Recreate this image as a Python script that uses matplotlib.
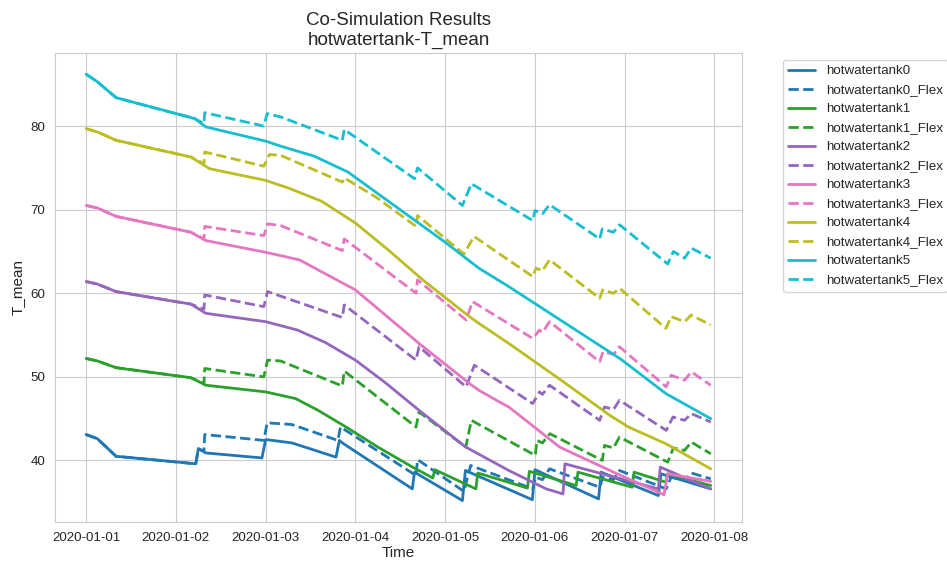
import numpy as np
import pandas as pd
import matplotlib
matplotlib.use("Agg")
import matplotlib.pyplot as plt
import matplotlib.dates as mdates
import seaborn as sns

# hours since 2020-01-01 00:00 and tank temperatures
tank0_h = [0, 3, 8, 29.3, 30, 32, 47, 48, 55, 66.8, 67.7, 68.5, 87.2, 87.8, 100.6, 101.4, 119.3, 120, 137, 137.7, 153, 153.7, 167]
tank0_v = [43.1, 42.6, 40.5, 39.6, 41.4, 40.9, 40.3, 42.5, 42.1, 40.4, 42.4, 42.1, 36.6, 38.6, 35.2, 38.8, 35.3, 38.9, 35.4, 38.6, 35.8, 38.4, 36.6]
tank0_flex_h = [0, 3, 8, 29.3, 30, 31.5, 31.7, 47.5, 48.4, 55, 67.3, 68, 88.2, 88.6, 101, 102.8, 119.4, 120.2, 122, 123.9, 137.3, 138.2, 141, 142.6, 155.1, 156.4, 160, 161.8, 167]
tank0_flex_v = [43.1, 42.6, 40.5, 39.6, 41.4, 41.1, 43.1, 42.4, 44.5, 44.3, 42.4, 44.0, 38.2, 40.1, 36.3, 39.4, 36.6, 38.0, 37.7, 39.0, 36.8, 38.0, 37.7, 38.8, 36.6, 38.0, 37.6, 38.5, 37.8]

tank1_h = [0, 3, 8, 28, 32, 48, 56, 62, 69.5, 78, 87.3, 92.7, 93.2, 104.2, 104.7, 118, 118.5, 131, 131.5, 146, 146.5, 155, 155.5, 167]
tank1_v = [52.2, 51.9, 51.1, 49.9, 49.0, 48.2, 47.4, 46.0, 44.0, 41.6, 39.2, 37.9, 38.9, 36.6, 38.5, 36.7, 38.7, 37.0, 38.6, 36.8, 38.6, 37.4, 38.4, 37.0]
tank1_flex_h = [0, 3, 8, 28, 31.5, 31.7, 47.5, 48.5, 52, 68.5, 69, 88.2, 89, 101.5, 103, 120.1, 120.5, 122, 124, 138, 138.6, 141, 142.6, 155.5, 157, 160, 161.8, 167]
tank1_flex_v = [52.2, 51.9, 51.1, 49.9, 49.2, 51.0, 50.0, 52.0, 51.9, 48.9, 50.7, 44.0, 45.8, 41.6, 44.8, 40.6, 42.4, 42.1, 43.2, 40.0, 41.8, 41.5, 42.8, 39.8, 41.5, 41.2, 42.2, 40.8]

tank2_h = [0, 3, 8, 28, 32, 48, 56.5, 64, 72, 80, 89, 101.5, 113, 123, 127.5, 128, 153, 153.5, 167]
tank2_v = [61.4, 61.1, 60.2, 58.7, 57.6, 56.6, 55.6, 54.1, 52.0, 49.3, 46.0, 41.6, 38.8, 36.6, 36.0, 39.6, 36.6, 39.2, 36.6]
tank2_flex_h = [0, 3, 8, 28, 31.5, 31.7, 47.5, 48.5, 68.5, 69, 88.2, 89, 101.6, 103.8, 119.4, 121.2, 122, 123.9, 137.3, 138.6, 141, 142.6, 155.1, 156.9, 160, 161.8, 167]
tank2_flex_v = [61.4, 61.1, 60.2, 58.7, 58.1, 59.8, 58.4, 60.2, 57.1, 58.6, 52.0, 53.6, 48.8, 51.4, 46.8, 48.2, 47.9, 49.0, 44.8, 46.4, 46.1, 47.2, 43.6, 45.2, 44.8, 45.6, 44.6]

tank3_h = [0, 3, 8, 28, 32, 48, 57, 67, 72, 80, 89, 102.5, 105, 110.5, 113, 126.6, 141, 154.5, 155.5, 167]
tank3_v = [70.5, 70.2, 69.2, 67.3, 66.3, 64.9, 64.0, 61.6, 60.4, 57.4, 54.0, 49.2, 48.4, 47.0, 46.4, 41.6, 38.6, 35.9, 38.4, 37.5]
tank3_flex_h = [0, 3, 8, 28, 31.5, 31.7, 47.5, 48.5, 52, 68.5, 69, 88.2, 88.6, 101.6, 103.3, 119.4, 121.2, 122, 123.9, 137.3, 138.2, 141, 142.6, 155.1, 156.4, 160, 161.8, 167]
tank3_flex_v = [70.5, 70.2, 69.2, 67.3, 66.5, 68.0, 66.9, 68.3, 68.1, 65.1, 66.5, 60.0, 61.6, 56.8, 59.0, 54.6, 55.6, 55.3, 56.6, 51.8, 53.0, 52.7, 53.6, 48.8, 50.2, 49.6, 50.6, 49.0]

tank4_h = [0, 3, 8, 28, 33, 48, 54, 63, 72, 81, 90, 102.5, 105, 113, 127, 140, 145, 155, 167]
tank4_v = [79.7, 79.3, 78.3, 76.3, 74.9, 73.5, 72.6, 71.0, 68.4, 65.1, 61.6, 57.2, 56.4, 54.0, 49.6, 45.4, 44.0, 42.0, 39.0]
tank4_flex_h = [0, 3, 8, 28, 31.5, 31.7, 47.5, 49, 52, 68.5, 69, 77.5, 88.2, 88.6, 101, 103.7, 119.4, 120.3, 122, 123.9, 137.3, 138.1, 141, 142.6, 155, 156.4, 160, 161.8, 167]
tank4_flex_v = [79.7, 79.3, 78.3, 76.3, 75.5, 76.9, 75.2, 76.6, 76.5, 73.3, 73.8, 71.5, 68.0, 69.3, 64.7, 66.8, 62.0, 63.0, 62.7, 64.0, 59.4, 60.4, 60.0, 60.6, 55.8, 57.2, 56.6, 57.4, 56.2]

tank5_h = [0, 3, 8, 29, 32, 48, 52, 61, 70, 83, 96, 105, 113, 143, 155, 167]
tank5_v = [86.2, 85.3, 83.4, 80.9, 79.9, 78.2, 77.6, 76.4, 74.5, 70.3, 66.1, 63.0, 60.8, 52.1, 48.0, 45.0]
tank5_flex_h = [0, 3, 8, 29, 31.5, 31.7, 47.5, 48.4, 52, 68.5, 69, 87.8, 88.6, 100.6, 103, 119.4, 120, 122, 123.9, 137.3, 138, 141, 142.6, 155.5, 157, 160, 161.8, 167]
tank5_flex_v = [86.2, 85.3, 83.4, 80.9, 80.3, 81.6, 80.0, 81.5, 81.1, 78.3, 79.6, 73.7, 75.0, 70.5, 73.1, 68.7, 69.9, 69.5, 70.6, 66.5, 67.7, 67.3, 68.2, 63.5, 65.0, 64.2, 65.4, 64.2]

tanks = [
    ("hotwatertank0", tank0_h, tank0_v, tank0_flex_h, tank0_flex_v),
    ("hotwatertank1", tank1_h, tank1_v, tank1_flex_h, tank1_flex_v),
    ("hotwatertank2", tank2_h, tank2_v, tank2_flex_h, tank2_flex_v),
    ("hotwatertank3", tank3_h, tank3_v, tank3_flex_h, tank3_flex_v),
    ("hotwatertank4", tank4_h, tank4_v, tank4_flex_h, tank4_flex_v),
    ("hotwatertank5", tank5_h, tank5_v, tank5_flex_h, tank5_flex_v),
]

start = pd.Timestamp("2020-01-01")


def to_time(hours):
    return start + pd.to_timedelta(hours, unit="h")


sns.set_style("whitegrid")
plt.rcParams['font.family'] = ['Liberation Sans', 'DejaVu Sans']

fig, ax = plt.subplots(figsize=(9.47, 5.63), dpi=100)
fig.subplots_adjust(left=0.058, right=0.7835, bottom=0.073, top=0.906)

colors = plt.cm.tab10(np.linspace(0, 1, len(tanks)))

for (name, h, v, fh, fv), c in zip(tanks, colors):
    ax.plot(to_time(h), v, color=c, linewidth=2, label=name)
    ax.plot(to_time(fh), fv, color=c, linewidth=2, linestyle='--', label=name + "_Flex")

ax.xaxis.set_major_locator(mdates.DayLocator())
ax.xaxis.set_major_formatter(mdates.DateFormatter("%Y-%m-%d"))
ax.set_yticks([40, 50, 60, 70, 80])
ax.tick_params(labelsize=9.6)

ax.set_title("Co-Simulation Results\nhotwatertank-T_mean", fontsize=13.5)
ax.set_xlabel("Time", fontsize=11, labelpad=2)
ax.set_ylabel("T_mean", fontsize=11)

ax.legend(bbox_to_anchor=(1.05, 1), loc='upper left', fontsize=9.6, labelspacing=0.5)

fig.savefig("out.png", dpi=100)
